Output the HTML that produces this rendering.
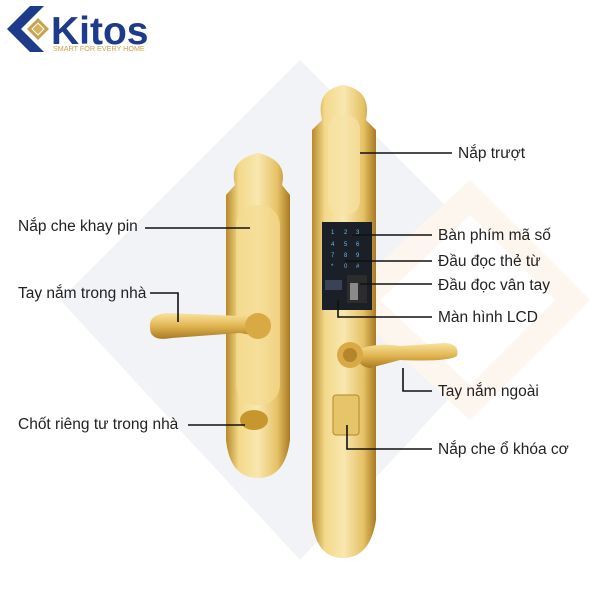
<!DOCTYPE html>
<html><head><meta charset="utf-8"><style>
html,body{margin:0;padding:0;background:#fff;}
svg{display:block;}
text{font-family:"Liberation Sans",sans-serif;}
</style></head><body>
<svg width="600" height="600" viewBox="0 0 600 600" xmlns="http://www.w3.org/2000/svg">
<defs>
<linearGradient id="g" x1="0" x2="1" y1="0" y2="0">
<stop offset="0" stop-color="#b8892a"/><stop offset="0.2" stop-color="#f3d98a"/><stop offset="0.5" stop-color="#f8e7b0"/><stop offset="0.8" stop-color="#e6c266"/><stop offset="1" stop-color="#a87a22"/>
</linearGradient>
<linearGradient id="h" x1="0" x2="0" y1="0" y2="1">
<stop offset="0" stop-color="#f8e4a0"/><stop offset="0.5" stop-color="#e2b651"/><stop offset="1" stop-color="#a87a24"/>
</linearGradient>
</defs>
<polygon points="60,300 300,60 540,300 300,560" fill="#f2f3f6"/>
<polygon points="340,300 470,180 590,300 470,420" fill="#fcf6ee"/>
<polygon points="380,300 470,215 555,300 470,385" fill="#fff"/>
<!-- logo -->
<polygon points="30,6 44,6 21,29 44,52 30,52 7,29" fill="#1e3a8a"/>
<polygon points="38,18 49,29 38,40 27,29" fill="#c9a24e"/>
<polygon points="38,23 44,29 38,35 32,29" fill="#d8b35a" stroke="#fff" stroke-width="1"/>
<text x="51" y="44" font-size="39" font-weight="bold" fill="#1e3a8a">Kitos</text>
<text x="53" y="51" font-size="7.2" fill="#c9a24e">SMART FOR EVERY HOME</text>
<!-- left lock -->
<path d="M235,185 Q228,160 258,153 Q288,160 282,185 L290,195 L290,440 Q285,478 258,478 Q230,478 226,440 L226,195 Z" fill="url(#g)"/>
<rect x="236" y="205" width="44" height="200" rx="20" fill="#f5dc92" opacity="0.7"/>
<ellipse cx="254" cy="420" rx="14" ry="10" fill="#c8962e"/>
<path d="M150,328 Q148,314 168,313 L240,316 Q262,312 270,318 Q274,332 262,337 L240,333 L172,338 Q150,342 150,328 Z" fill="url(#h)"/>
<circle cx="258" cy="326" r="13" fill="#d9a945"/>
<!-- right lock -->
<path d="M322,120 Q315,90 343,85 Q372,90 366,120 L376,130 L376,520 Q370,558 343,558 Q316,558 312,520 L312,130 Z" fill="url(#g)"/>
<rect x="328" y="115" width="32" height="100" rx="14" fill="#f6e2a5" opacity="0.7"/>
<rect x="322" y="222" width="50" height="88" fill="#1b1f27"/>
<g fill="#6fb6e8" font-size="6">
<text x="331" y="234">1</text><text x="344" y="234">2</text><text x="356" y="234">3</text>
<text x="331" y="246">4</text><text x="344" y="246">5</text><text x="356" y="246">6</text>
<text x="331" y="257">7</text><text x="344" y="257">8</text><text x="356" y="257">9</text>
<text x="331" y="268">*</text><text x="344" y="268">0</text><text x="356" y="268">#</text>
</g>
<rect x="325" y="280" width="17" height="10" fill="#3b4157"/>
<rect x="347" y="275" width="20" height="28" fill="#2c2c2c"/>
<rect x="350" y="283" width="8" height="17" fill="#8a8a8a"/>
<path d="M358,350 Q375,342 400,346 L445,343 Q460,344 457,356 Q448,362 400,360 L370,368 Q355,366 358,350 Z" fill="url(#h)"/>
<circle cx="350" cy="355" r="13" fill="#d9a945"/>
<circle cx="350" cy="355" r="7" fill="#b4862b"/>
<rect x="333" y="395" width="26" height="40" rx="3" fill="#e6c46a" stroke="#b4862b"/>
<!-- leader lines -->
<g stroke="#111" stroke-width="1.6" fill="none">
<line x1="145" y1="228" x2="250" y2="228"/>
<polyline points="150,293 178,293 178,322"/>
<line x1="188" y1="425" x2="245" y2="425"/>
<line x1="360" y1="153" x2="452" y2="153"/>
<line x1="352" y1="235" x2="432" y2="235"/>
<line x1="345" y1="261" x2="432" y2="261"/>
<line x1="360" y1="284" x2="432" y2="284"/>
<polyline points="338,300 338,317 432,317"/>
<polyline points="403,368 403,391 432,391"/>
<polyline points="347,425 347,449 432,449"/>
</g>
<g font-size="15.5" fill="#222">
<text x="18" y="231">Nắp che khay pin</text>
<text x="18" y="298">Tay nắm trong nhà</text>
<text x="18" y="429">Chốt riêng tư trong nhà</text>
<text x="458" y="158">Nắp trượt</text>
<text x="438" y="240">Bàn phím mã số</text>
<text x="438" y="266">Đầu đọc thẻ từ</text>
<text x="438" y="290">Đầu đọc vân tay</text>
<text x="438" y="322">Màn hình LCD</text>
<text x="438" y="396">Tay nắm ngoài</text>
<text x="438" y="454">Nắp che ổ khóa cơ</text>
</g>
</svg>
</body></html>
